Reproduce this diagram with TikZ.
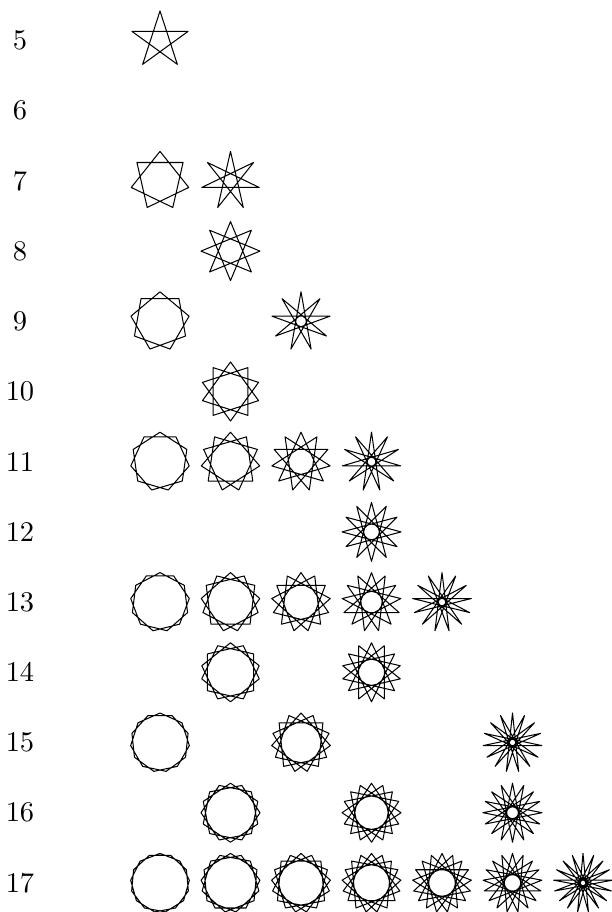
\documentclass[tikz,border=0pt]{standalone}
\begin{document}
\begin{tikzpicture}[x=0.351pt,y=-0.351pt,
  starline/.style={line width=0.36pt, line join=round},
  rowlabel/.style={inner sep=0pt}]
\useasboundingbox (0,0) rectangle (611,912);
\foreach \n in {5,...,17}{
  \pgfmathsetmacro{\yy}{40.5+70.2*(\n-5)}
  \node[rowlabel] (lab\n) at (20,\yy) {\n};
  \foreach \k in {2,...,8}{
    \pgfmathtruncatemacro{\g}{gcd(\n,\k)}
    \pgfmathtruncatemacro{\ok}{(\g==1)&&(2*\k<\n)}
    \ifnum\ok=1
      \pgfmathsetmacro{\xx}{160+70.5*(\k-2)}
      \pgfmathtruncatemacro{\nm}{\n-1}
      \begin{scope}[shift={(\xx,\yy)}]
        \draw[starline] (-90:29.5)
          \foreach \i [evaluate=\i as \a using {-90-360*mod(\k*\i,\n)/\n}] in {1,...,\nm}{ -- (\a:29.5) } -- cycle;
      \end{scope}
    \fi
  }
}
\end{tikzpicture}
\end{document}
